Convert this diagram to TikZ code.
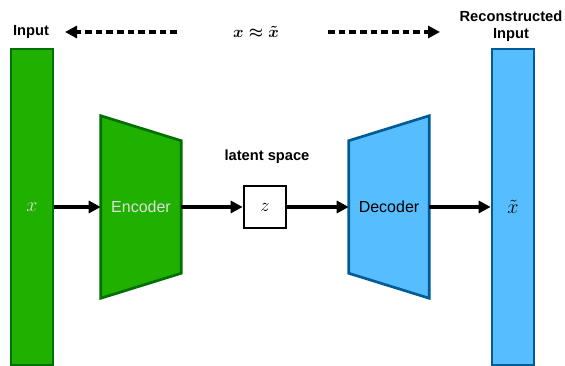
\RequirePackage{fix-cm}
\documentclass[tikz,border=0pt]{standalone}
\usepackage{fontspec}
\setmainfont{Liberation Sans}
\usetikzlibrary{arrows.meta,backgrounds}

\definecolor{encfill}{HTML}{20B000}
\definecolor{encline}{HTML}{007000}
\definecolor{decfill}{HTML}{56BEFF}
\definecolor{decline}{HTML}{005C96}
\definecolor{paletext}{HTML}{DDDDDD}

\tikzset{
  bar/.style={draw, line width=2pt, minimum width=31.5pt, minimum height=237pt, inner sep=0pt, font=\fontsize{15}{17}\selectfont},
  block/.style={minimum width=60pt, minimum height=136.5pt, inner sep=0pt, font=\fontsize{12}{14}\selectfont},
  latent/.style={draw, line width=2pt, fill=white, minimum size=31.5pt, inner sep=0pt, font=\fontsize{14}{16}\selectfont},
  flow/.style={-{Triangle[length=9pt,width=9pt]}, line width=2.6pt},
  hint/.style={-{Triangle[length=9pt,width=9pt]}, line width=2.6pt, dash pattern=on 5pt off 3pt},
  caption/.style={font=\bfseries\fontsize{11}{13}\selectfont, align=center, inner sep=0pt},
}

\begin{document}
\begin{tikzpicture}[x=0.75pt, y=-0.75pt]
\useasboundingbox (0,0) rectangle (565,366);

% input and output columns
\node[bar, fill=encfill, draw=encline, text=paletext] (inbar) at (32,207) {$x$};
\node[bar, fill=decfill, draw=decline] (outbar) at (513,207) {$\tilde{x}$};

% encoder / decoder, trapezia drawn behind the labels
\node[block, text=paletext] (enc) at (141,207) {Encoder};
\node[block] (dec) at (389,207) {Decoder};
\begin{pgfonlayer}{background}
\draw[line width=2pt, fill=encfill, draw=encline]
  (enc.north west) -- ([yshift=-18.75pt]enc.north east)
  -- ([yshift=18.75pt]enc.south east) -- (enc.south west) -- cycle;
\draw[line width=2pt, fill=decfill, draw=decline]
  ([yshift=-18.75pt]dec.north west) -- (dec.north east)
  -- (dec.south east) -- ([yshift=18.75pt]dec.south west) -- cycle;
\end{pgfonlayer}

% latent code
\node[latent] (z) at (265,207) {$z$};
\node[caption] (zlab) at (267,157) {latent space};

\draw[flow] (inbar) -- (enc);
\draw[flow] (enc) -- (z);
\draw[flow] (z) -- (dec);
\draw[flow] (dec) -- (outbar);

% top row
\node[caption] (inlab) at (31,32) {Input};
\node[font=\fontsize{12}{14}\selectfont\boldmath] (approx) at (256,32) {$x \approx \tilde{x}$};
\node[caption] (reclab) at (511,26) {Reconstructed\\Input};
\coordinate (lfrom) at (177,32);
\coordinate (lto) at (65,32);
\coordinate (rfrom) at (328,32);
\coordinate (rto) at (440,32);
\draw[hint] (lfrom) -- (lto);
\draw[hint] (rfrom) -- (rto);
\end{tikzpicture}
\end{document}
